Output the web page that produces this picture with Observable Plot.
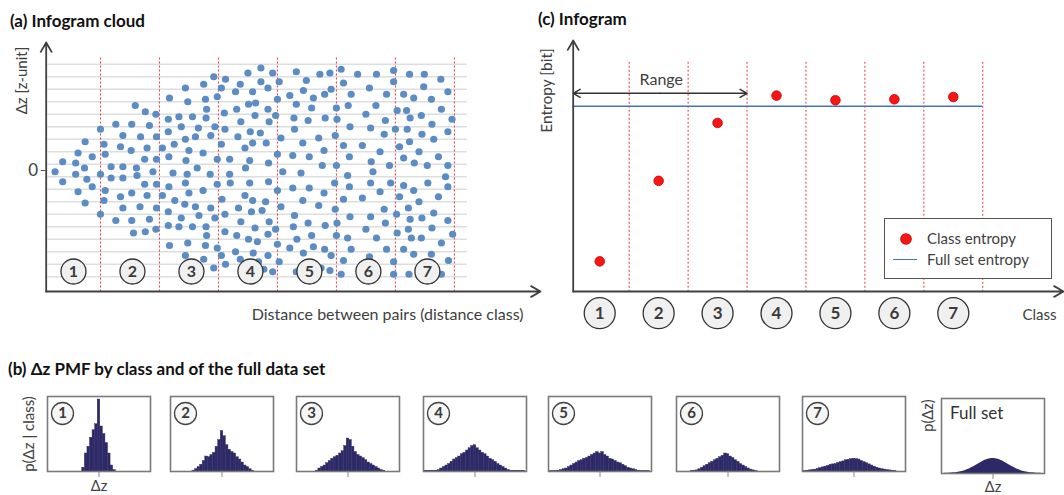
<!DOCTYPE html>
<html><head><meta charset="utf-8">
<script src="https://cdn.jsdelivr.net/npm/d3@7"></script>
<script src="https://cdn.jsdelivr.net/npm/@observablehq/plot@0.6"></script>
<style>
body{margin:0;background:#fff;}
#root{position:relative;width:1064px;height:495px;overflow:hidden;background:#fff;font-family:Lato,"Open Sans",sans-serif;color:#404040;}
.abs{position:absolute;}
.title{position:absolute;font-weight:700;font-size:17px;color:#111;line-height:1;white-space:nowrap;}
.legend{position:absolute;border:1px solid #555;background:#fff;box-sizing:border-box;}
.legend span{position:absolute;}
.ltxt{font-size:15px;line-height:1;color:#404040;white-space:nowrap;}
</style></head><body><div id="root"></div>
<script>
// ---------- DATA ----------
const classes = [1, 2, 3, 4, 5, 6, 7];
const classEdges = [10, 20, 30, 40, 50, 60, 70];          // distance-class limits (distance units)
const gridDz = [-8.5,-7.5,-6.5,-5.5,-4.5,-3.5,-2.5,-1.5,-0.5,0.5,1.5,2.5,3.5,4.5,5.5,6.5,7.5,8.5];

// Infogram cloud: [distance, Δz] pairs, grouped by class
const cloud1 = [[2.3,-0.1],[3.6,0.7],[3.6,-0.9],[5.8,0.6],[5.8,-0.3],[6.2,1.4],[7.4,2.3],[7.3,0.2],[7.7,-0.7],[8.6,1.1],[8.6,-1.3],[6.2,-1.7],[7.4,-2.6],[10.0,3.3],[10.0,-0.3],[10.0,-3.5]];
const cloud2 = [[10.6,2.1],[10.8,1.3],[12.6,3.7],[13.8,2.8],[15.3,3.7],[15.9,5.2],[17.6,4.7],[19.4,4.5],[18.3,3.6],[16.8,2.7],[19.5,2.7],[13.4,1.9],[15.2,1.6],[17.9,1.8],[17.5,0.9],[19.5,0.9],[11.8,0.3],[13.8,0.3],[16.1,0.2],[16.2,-0.4],[11.8,-0.6],[13.8,-0.6],[18.9,-0.1],[10.8,-1.6],[10.6,-2.4],[13.4,-2.1],[15.3,-1.8],[17.9,-2.0],[17.5,-1.1],[19.5,-1.1],[13.8,-3.0],[16.7,-2.9],[19.5,-3.0],[12.6,-4.0],[15.3,-4.0],[18.3,-3.9],[15.6,-5.0],[17.6,-4.9],[19.4,-4.7]];
const cloud3 = [[21.7,5.8],[24.4,6.6],[24.8,5.5],[27.5,6.9],[29.2,7.5],[27.8,5.7],[28.0,4.9],[21.5,4.1],[23.3,4.3],[25.6,4.3],[27.9,4.2],[29.4,3.5],[26.6,3.4],[23.7,3.5],[21.5,3.1],[20.5,1.8],[22.5,2.1],[24.4,2.5],[26.1,2.7],[28.7,2.8],[25.0,1.6],[27.4,1.4],[21.6,1.1],[24.5,0.8],[26.4,0.2],[29.8,0.9],[22.3,-0.2],[24.7,-0.3],[28.6,-0.3],[21.6,-1.3],[24.4,-1.0],[25.0,-1.8],[27.4,-1.6],[20.5,-2.0],[22.6,-2.4],[24.3,-2.7],[26.1,-2.9],[28.7,-3.0],[26.7,-3.6],[23.7,-3.8],[29.4,-3.8],[21.5,-3.3],[21.5,-4.4],[23.3,-4.5],[25.6,-4.5],[27.9,-4.5],[28.0,-5.2],[21.7,-6.0],[24.8,-5.8],[27.8,-6.0],[29.8,-6.2],[24.4,-6.8],[27.5,-7.1],[29.2,-7.8],[29.8,5.9],[29.8,-1.1]];
const cloud4 = [[31.2,7.3],[30.5,6.6],[32.9,6.3],[33.7,6.9],[35.0,7.8],[37.2,8.2],[35.8,6.3],[37.2,7.1],[35.1,5.3],[36.3,5.4],[36.2,4.4],[33.1,4.9],[31.0,4.6],[33.8,3.9],[31.1,3.3],[33.3,2.7],[35.4,3.1],[37.1,3.0],[34.5,1.8],[35.8,2.2],[30.5,2.1],[31.9,0.9],[35.3,0.8],[34.6,0.2],[31.9,-0.3],[32.0,-1.0],[35.3,-1.0],[30.6,-2.3],[34.5,-2.0],[35.8,-2.4],[38.0,-2.5],[31.1,-3.5],[33.4,-3.0],[35.6,-3.3],[37.4,-3.2],[33.8,-4.1],[36.2,-4.6],[31.1,-4.9],[33.1,-5.2],[35.1,-5.5],[36.6,-5.7],[30.5,-6.8],[32.9,-6.5],[35.9,-6.6],[31.2,-7.5],[33.7,-7.1],[36.8,-7.3],[37.7,-7.9],[39.2,7.8],[38.4,6.6],[38.4,4.9],[38.6,3.9],[38.1,2.2],[38.5,0.6],[38.5,-0.9],[38.6,-4.1],[38.4,-5.1],[38.4,-6.8],[39.2,-8.1],[40.3,7.1],[40.0,5.7],[39.7,4.4],[40.0,1.3],[40.0,-1.6],[39.7,-4.7],[40.0,-5.9],[40.3,-7.3]];
const cloud5 = [[43.2,7.9],[44.9,7.2],[47.2,7.7],[48.9,7.8],[42.1,6.0],[44.4,6.4],[46.1,5.8],[48.0,6.1],[49.1,6.5],[43.2,5.3],[45.8,5.0],[42.8,4.2],[45.2,4.0],[48.1,4.2],[42.9,3.3],[40.6,2.6],[44.3,2.2],[47.0,2.6],[47.9,1.6],[42.6,1.2],[45.4,1.1],[47.6,0.4],[40.9,-0.1],[44.0,-0.2],[42.6,-1.4],[45.4,-1.4],[47.9,-1.8],[44.3,-2.4],[40.6,-2.9],[47.0,-2.8],[42.9,-3.6],[45.2,-4.2],[42.7,-4.5],[48.1,-4.4],[43.3,-5.5],[45.8,-5.2],[42.1,-6.2],[44.4,-6.6],[46.1,-6.1],[48.0,-6.3],[49.1,-6.8],[43.2,-8.1],[45.5,-8.1],[47.4,-7.8],[48.9,-8.0],[50.8,8.1],[51.2,7.0],[50.0,5.0],[50.1,4.1],[49.8,2.8],[50.0,0.4],[49.7,-1.0],[49.8,-3.1],[50.1,-4.2],[50.0,-5.2],[50.8,-8.3]];
const cloud6 = [[52.5,6.1],[52.0,5.2],[52.3,3.5],[51.2,2.0],[54.4,2.0],[52.2,1.1],[51.9,-0.4],[52.2,-1.3],[51.2,-2.3],[54.4,-2.2],[52.3,-3.7],[51.9,-5.4],[52.5,-6.3],[51.2,-7.2],[53.6,7.7],[56.8,7.7],[55.6,6.6],[58.5,6.1],[56.7,5.2],[55.0,4.5],[58.3,4.0],[55.8,3.4],[58.1,2.9],[57.4,1.5],[55.9,0.7],[59.0,0.4],[56.2,-0.1],[55.8,-1.0],[59.2,-1.0],[57.4,-1.7],[58.1,-3.1],[55.8,-3.7],[58.3,-4.2],[55.0,-4.7],[56.8,-5.4],[58.5,-6.3],[55.6,-6.9],[56.7,-7.9],[59.7,8.0],[59.7,7.1],[60.3,4.8],[60.0,3.3],[60.7,1.9],[60.2,-3.5],[60.3,-5.0],[59.7,-7.3],[59.7,-8.3]];
const cloud7 = [[62.4,7.7],[64.9,7.7],[67.7,7.3],[64.8,6.7],[61.4,6.1],[63.1,5.8],[66.1,5.7],[68.9,6.3],[61.9,4.8],[62.5,4.2],[64.4,4.4],[67.8,4.9],[69.6,4.1],[62.0,3.3],[64.5,2.9],[66.2,3.7],[68.9,3.1],[62.4,2.3],[66.5,2.5],[64.0,1.5],[61.4,1.0],[63.2,0.6],[65.4,0.4],[67.3,1.1],[68.9,0.4],[68.5,-0.5],[65.5,-1.0],[61.4,-1.2],[63.1,-1.6],[60.7,-2.1],[64.0,-2.5],[67.3,-2.1],[68.9,-1.3],[62.2,-3.0],[66.5,-3.4],[62.5,-3.9],[64.5,-3.8],[68.9,-4.0],[62.2,-4.7],[66.2,-4.6],[62.7,-5.4],[64.4,-5.4],[69.7,-5.1],[67.8,-5.8],[61.4,-6.3],[63.1,-6.7],[66.1,-6.7],[69.0,-7.2],[62.3,-8.3],[67.8,-8.3]];

// Infogram: entropy per class and of the full set [bit]
const classEntropy = [0.65, 2.39, 3.64, 4.23, 4.13, 4.15, 4.20];
const fullEntropy = 4.0;
const rangeClass = 3;

// PMFs (bin centres in Δz units, relative probabilities)
const pmfBins = [-19,-18,-17,-16,-15,-14,-13,-12,-11,-10,-9,-8,-7,-6,-5,-4,-3,-2,-1,0,1,2,3,4,5,6,7,8,9,10,11,12,13,14,15,16,17,18,19];
const pmf1 = [0,0,0,0,0,0,0,0,0,0,0,0,0, 0.05,0.24,0.33,0.45,0.55,0.63,0.96,0.60,0.50,0.38,0.24,0.08,0.02, 0,0,0,0,0,0,0,0,0,0,0,0,0];
const pmf2 = [0,0,0,0,0,0,0,0, 0.01,0.03,0.06,0.09,0.14,0.20,0.19,0.22,0.25,0.33,0.42,0.54,0.47,0.35,0.29,0.26,0.24,0.19,0.16,0.12,0.08,0.06,0.03,0.01, 0,0,0,0,0,0,0];
const pmf3 = [0,0,0,0,0,0,0, 0.01,0.04,0.06,0.08,0.11,0.14,0.17,0.19,0.21,0.24,0.27,0.34,0.44,0.42,0.33,0.26,0.22,0.20,0.18,0.15,0.12,0.10,0.08,0.06,0.04,0.02,0.01, 0,0,0,0,0];
const pmf4 = [0.01,0.01,0.01,0.01,0.01, 0.02,0.04,0.06,0.08,0.10,0.13,0.16,0.18,0.20,0.23,0.25,0.28,0.31,0.34,0.35,0.31,0.28,0.25,0.23,0.20,0.17,0.15,0.13,0.10,0.08,0.06,0.04,0.02, 0.01,0.01,0.01,0.01,0.01,0.01];
const pmf5 = [0.005,0.005,0.005, 0.01,0.02,0.03,0.04,0.06,0.08,0.10,0.12,0.14,0.15,0.17,0.18,0.20,0.22,0.24,0.26,0.24,0.26,0.22,0.20,0.17,0.16,0.14,0.12,0.11,0.09,0.07,0.05,0.04,0.03,0.02,0.01, 0.005,0.005,0.005,0.005];
const pmf6 = [0,0,0,0,0, 0.005,0.01,0.015,0.03,0.05,0.07,0.09,0.11,0.13,0.15,0.17,0.19,0.21,0.24,0.23,0.20,0.18,0.15,0.13,0.10,0.08,0.06,0.04,0.025,0.015,0.005, 0,0,0,0,0,0,0,0];
const pmf7 = [0.005, 0.01,0.015,0.02,0.025,0.035,0.045,0.055,0.065,0.075,0.09,0.095,0.10,0.115,0.125,0.135,0.15,0.155,0.165,0.17,0.165,0.16,0.14,0.125,0.11,0.095,0.08,0.065,0.05,0.04,0.03,0.025,0.02,0.015,0.01,0.005, 0,0,0];
const pmfFull = [0.001,0.002,0.004,0.006,0.009,0.013,0.019,0.027,0.037,0.050,0.065,0.082,0.101,0.121,0.141,0.160,0.176,0.189,0.197,0.200,0.197,0.189,0.176,0.160,0.141,0.121,0.101,0.082,0.065,0.050,0.037,0.027,0.019,0.013,0.009,0.006,0.004,0.002,0.001];

// ---------- LAYOUT ----------
const root = document.getElementById("root");
const ink = "#404040", red = "#e5393b", navy = "#2c2966";
function place(el, left, top){ const d=document.createElement("div"); d.className="abs"; d.style.left=left+"px"; d.style.top=top+"px"; d.appendChild(el); root.appendChild(d); return d; }
function html(cls, txt, left, top){ const d=document.createElement("div"); d.className=cls; d.textContent=txt; d.style.left=left+"px"; d.style.top=top+"px"; root.appendChild(d); return d; }
const baseStyle = {background:"transparent", overflow:"visible", fontFamily:"Lato, 'Open Sans', sans-serif"};
const C = {textAnchor:"middle", lineAnchor:"middle"};

// (a) Infogram cloud
const cloud = [cloud1,cloud2,cloud3,cloud4,cloud5,cloud6,cloud7].flatMap((pts,i)=>pts.map(([d,dz])=>({d,dz,cls:i+1})));
const xA = [0.8, 84.6], yA = [-9.68, 10.24];
const plotA = Plot.plot({
  width:560, height:330, marginLeft:45.7, marginRight:20, marginTop:42, marginBottom:39,
  x:{domain:xA, axis:null}, y:{domain:yA},
  style:baseStyle,
  marks:[
    Plot.ruleY(gridDz, {x1:1.1, x2:72.2, stroke:"#dedede", strokeWidth:1.4}),
    Plot.ruleX(classEdges, {y1:9.0, y2:yA[0], stroke:red, strokeWidth:1, strokeDasharray:"2,2"}),
    Plot.dot(cloud, {x:"d", y:"dz", r:3.6, fill:"#5b8cc3"}),
    Plot.dot(classes, {x:k=>(k-0.5)*10, frameAnchor:"bottom", dx:2.5, dy:-20, r:12.5, fill:"#f0f0f0", stroke:"#333", strokeWidth:1.3}),
    Plot.text(classes, {...C, x:k=>(k-0.5)*10, frameAnchor:"bottom", dx:2.5, dy:-20, text:k=>String(k), fontSize:16, fontWeight:"bold", fill:"#3a3a3a"}),
    Plot.arrow([0], {x1:xA[0], y1:yA[0], x2:xA[1], y2:yA[0], stroke:ink, strokeWidth:1.8, headLength:9}),
    Plot.arrow([0], {x1:xA[0], y1:yA[0], x2:xA[0], y2:yA[1], stroke:ink, strokeWidth:1.8, headLength:9}),
    Plot.axisY({ticks:[0], tickSize:5, tickPadding:3, fontSize:17, label:null, stroke:"#555", fill:ink}),
    Plot.text(["Δz [z-unit]"], {...C, frameAnchor:"top-left", rotate:-90, dx:-24, dy:38, fontSize:15, fill:ink}),
    Plot.text(["Distance between pairs (distance class)"], {frameAnchor:"bottom-right", textAnchor:"end", lineAnchor:"middle", dx:-17, dy:23, fontSize:16, fill:ink})
  ]
});
place(plotA, 0, 0);
html("title", "(a) Infogram cloud", 10, 12);

// (c) Infogram
const xC = [0.55, 8.87], yC = [0, 5.42];
const rangeArrowH = 4.28, rangeMid = (xC[0] + rangeClass + 0.5) / 2;
const plotC = Plot.plot({
  width:534, height:330, marginLeft:42.7, marginRight:1, marginTop:40, marginBottom:39,
  x:{domain:xC, axis:null}, y:{domain:yC, axis:null},
  style:baseStyle,
  marks:[
    Plot.ruleX(classes.map(k=>k+0.5), {y1:4.95, y2:0, stroke:red, strokeWidth:1, strokeDasharray:"2,2"}),
    Plot.ruleY([fullEntropy], {x1:xC[0], x2:classes.length+0.5, stroke:"#4472c4", strokeWidth:1.6}),
    Plot.dot(classes, {x:k=>k, y:k=>classEntropy[k-1], r:4.8, fill:"#fa1414", stroke:"#c00000", strokeWidth:0.8}),
    Plot.arrow([0], {x1:rangeMid, y1:rangeArrowH, x2:xC[0], y2:rangeArrowH, stroke:"#333", strokeWidth:1.5, headLength:8}),
    Plot.arrow([0], {x1:rangeMid, y1:rangeArrowH, x2:rangeClass+0.5, y2:rangeArrowH, stroke:"#333", strokeWidth:1.5, headLength:8}),
    Plot.text(["Range"], {...C, x:rangeMid+0.02, y:rangeArrowH, dy:-13, fontSize:16, fill:ink}),
    Plot.arrow([0], {x1:xC[0], y1:0, x2:xC[1], y2:0, stroke:ink, strokeWidth:1.8, headLength:9}),
    Plot.arrow([0], {x1:xC[0], y1:0, x2:xC[0], y2:yC[1], stroke:ink, strokeWidth:1.8, headLength:9}),
    Plot.dot(classes, {x:k=>k, frameAnchor:"bottom", dy:21.7, r:15.5, fill:"#f0f0f0", stroke:"#333", strokeWidth:1.3}),
    Plot.text(classes, {...C, x:k=>k, frameAnchor:"bottom", dy:21.7, text:k=>String(k), fontSize:17, fontWeight:"bold", fill:"#3a3a3a"}),
    Plot.text(["Class"], {frameAnchor:"bottom-right", textAnchor:"end", lineAnchor:"middle", dx:-7, dy:24, fontSize:15, fill:ink}),
    Plot.text(["Entropy [bit]"], {...C, frameAnchor:"top-left", rotate:-90, dx:-25.7, dy:50, fontSize:15.5, fill:ink})
  ]
});
place(plotC, 530, 0);
html("title", "(c) Infogram", 538, 10);

// legend
const lg = document.createElement("div"); lg.className="legend";
Object.assign(lg.style, {left:"884px", top:"218px", width:"168px", height:"61px"});
lg.innerHTML = '<span style="left:16px;top:14.5px;width:10px;height:10px;border-radius:50%;background:#fa1414;box-shadow:0 0 0 0.8px #c00000"></span>'+
  '<span style="left:8px;top:40px;width:24px;height:0;border-top:1.6px solid #4472c4"></span>'+
  '<span class="ltxt" style="left:42px;top:12px">Class entropy</span>'+
  '<span class="ltxt" style="left:42px;top:33px">Full set entropy</span>';
root.appendChild(lg);

// (b) PMFs
html("title", "(b) Δz PMF by class and of the full data set", 8, 360);
const pmfs = [pmf1,pmf2,pmf3,pmf4,pmf5,pmf6,pmf7];
const histLeft = [46.7, 170, 296, 423.3, 548.3, 675.7, 801.7];
function histPlot(vals, k){
  const rows = pmfBins.map((b,i)=>({b, p:vals[i]}));
  const full = k === null;
  const marks = [
    full ? Plot.areaY(rows, {x:"b", y:"p", curve:"natural", fill:navy})
         : Plot.rect(rows, {x1:d=>d.b-0.5, x2:d=>d.b+0.5, y1:0, y2:"p", fill:navy, stroke:navy, strokeWidth:0.4}),
    Plot.frame({stroke:"#7a7a7a", strokeWidth:1.6}),
    Plot.ruleX([0], {y1:0, y2:-0.08, stroke:"#888", strokeWidth:1})
  ];
  if (!full) {
    marks.push(Plot.dot([k], {frameAnchor:"top-left", dx:15, dy:17, r:11, fill:"#f6f6f6", stroke:"#444", strokeWidth:1.3}));
    marks.push(Plot.text([k], {...C, frameAnchor:"top-left", dx:15, dy:17, text:d=>String(d), fontSize:15, fontWeight:"bold", fill:"#3a3a3a"}));
  } else {
    marks.push(Plot.text(["Full set"], {frameAnchor:"top-left", textAnchor:"start", lineAnchor:"middle", dx:8.6, dy:15, fontSize:17, fill:"#333"}));
    marks.push(Plot.text(["p(Δz)"], {...C, frameAnchor:"top-left", rotate:-90, dx:-12.7, dy:17, fontSize:14.5, fill:ink}));
  }
  if (k === 1) marks.push(Plot.text(["p(Δz | class)"], {...C, frameAnchor:"left", rotate:-90, dx:-18.7, fontSize:15, fill:ink}));
  if (k === 1 || full) marks.push(Plot.text(["Δz"], {...C, frameAnchor:"bottom", dy:full ? 13.5 : 15, fontSize:14.5, fill:ink}));
  return Plot.plot({
    width:103, height:75, marginLeft:0, marginRight:0, marginTop:0, marginBottom:0,
    x:{domain:[-20,20], axis:null}, y:{domain:[0,1], axis:null},
    style:baseStyle, marks
  });
}
pmfs.forEach((v,i)=>place(histPlot(v, i+1), histLeft[i], 396));
place(histPlot(pmfFull, null), 940.7, 398);
</script></body></html>
